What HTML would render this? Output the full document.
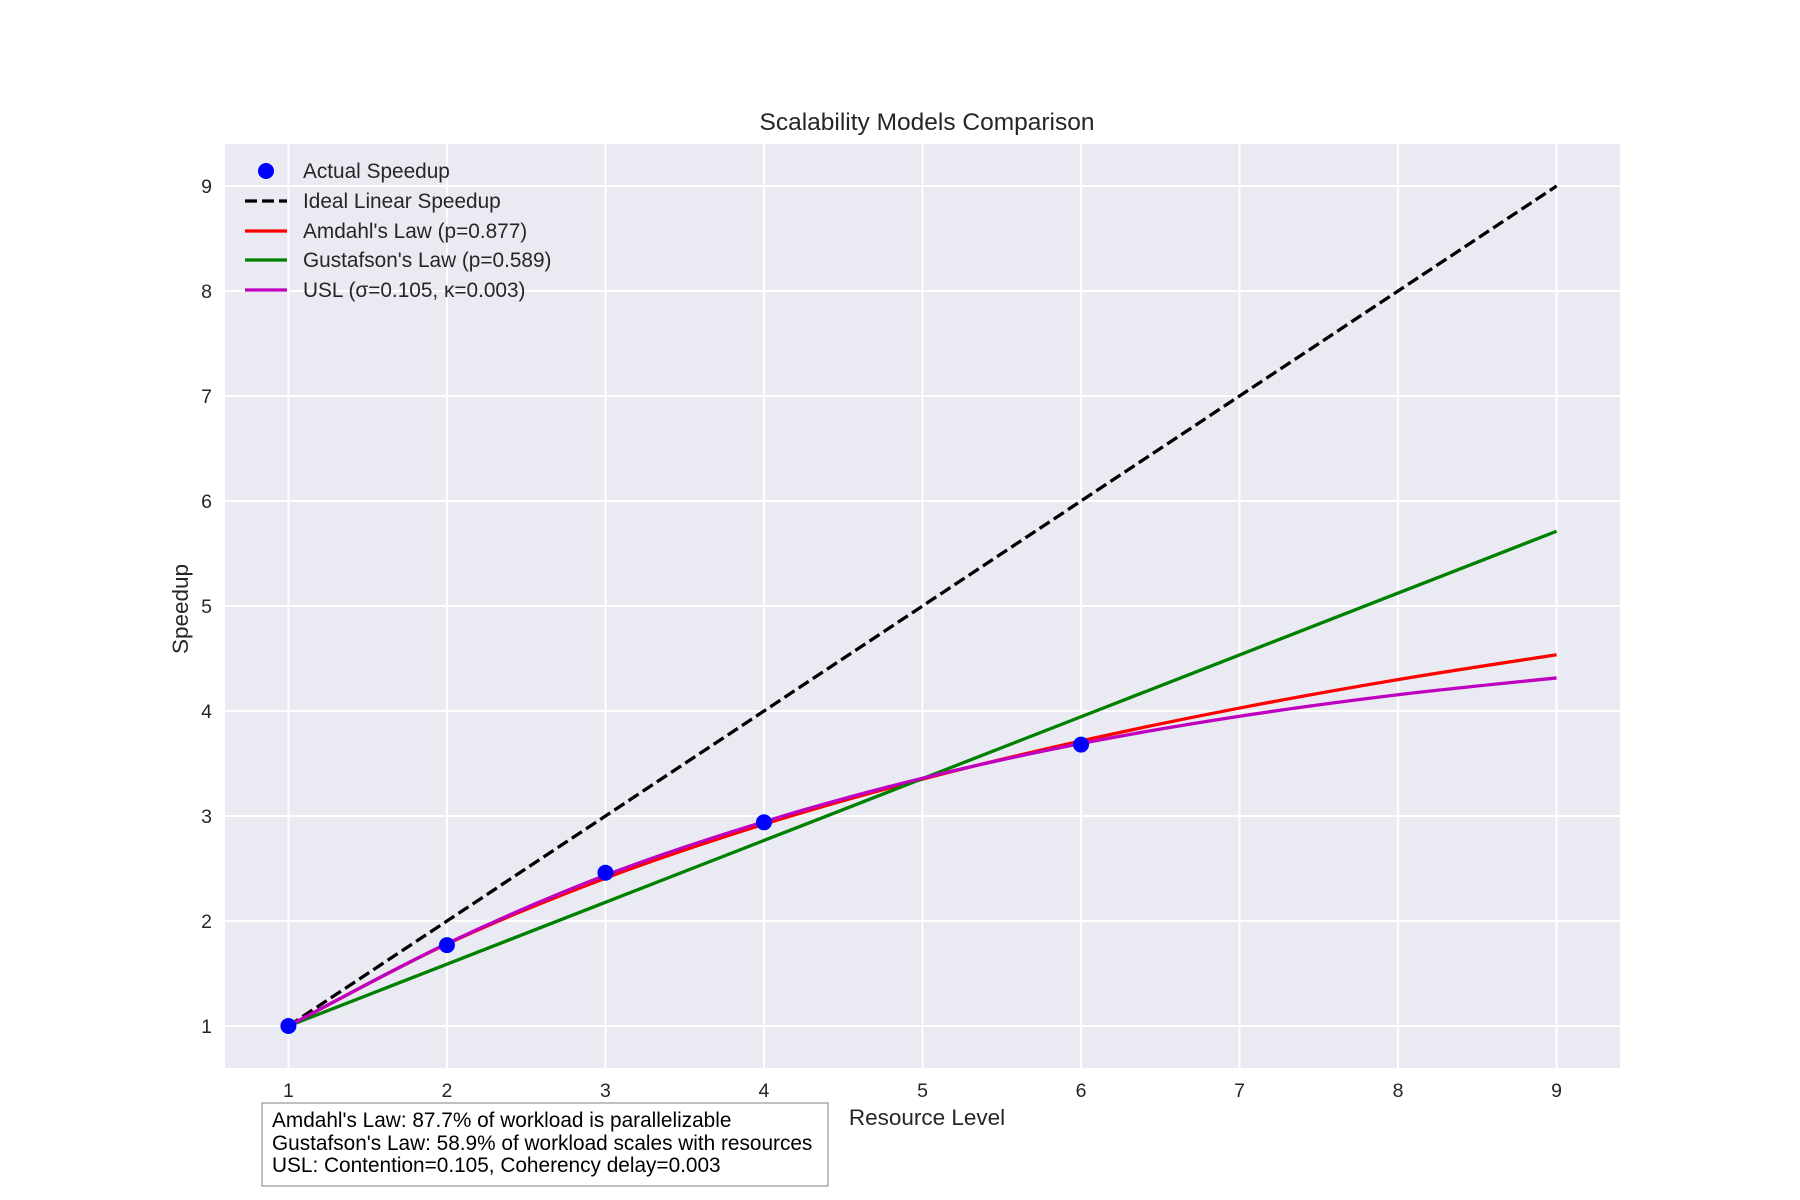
<!DOCTYPE html>
<html><head><meta charset="utf-8"><style>
html,body{margin:0;padding:0;background:#fff;}
svg{display:block;font-family:"Liberation Sans",Arial,sans-serif;}
</style></head><body>
<svg id="chart" width="1800" height="1200" viewBox="0 0 1800 1200">
<rect x="0" y="0" width="1800" height="1200" fill="#fff"/>
<rect x="225" y="144" width="1395" height="924" fill="#EAEAF2"/>
<g id="grid"></g>
<g id="series"></g>
<g id="ticks"></g>
<text x="927" y="130" font-size="24.5" fill="#262626" text-anchor="middle">Scalability Models Comparison</text>
<text x="927" y="1125" font-size="22.5" fill="#262626" text-anchor="middle">Resource Level</text>
<text x="188" y="609" font-size="22.5" fill="#262626" text-anchor="middle" transform="rotate(-90 188 609)">Speedup</text>
<g id="legend"></g>
<g>
<rect x="262" y="1109" width="566" height="83" fill="#fff" stroke="#808080" stroke-width="1" transform="translate(0,-6)"/>
<text x="272" y="1127" font-size="20.8" fill="#000">Amdahl's Law: 87.7% of workload is parallelizable</text>
<text x="272" y="1150" font-size="20.8" fill="#000">Gustafson's Law: 58.9% of workload scales with resources</text>
<text x="272" y="1172" font-size="20.8" fill="#000">USL: Contention=0.105, Coherency delay=0.003</text>
</g>
</svg>
<script>
const xTicks=[1,2,3,4,5,6,7,8,9];
const yTicks=[1,2,3,4,5,6,7,8,9];
const actualX=[1,2,3,4,6];
const actualY=[1,1.77,2.46,2.94,3.68];
const modelX=[1,2,3,4,5,6,7,8,9];
const idealY=[1,2,3,4,5,6,7,8,9];
const amdahlY=[1,1.781,2.408,2.922,3.351,3.715,4.028,4.299,4.536];
const gustafsonY=[1,1.589,2.178,2.767,3.356,3.945,4.534,5.123,5.712];
const uslY=[1,1.785,2.435,2.945,3.36,3.69,3.95,4.155,4.315];
const legendLabels=["Actual Speedup","Ideal Linear Speedup","Amdahl's Law (p=0.877)","Gustafson's Law (p=0.589)","USL (σ=0.105, κ=0.003)"];

const X0=225,X1=1620,Y0=1068,Y1=144,xmin=0.6,xmax=9.4,ymin=0.6,ymax=9.4;
const sx=v=>X0+(v-xmin)/(xmax-xmin)*(X1-X0);
const sy=v=>Y0-(v-ymin)/(ymax-ymin)*(Y0-Y1);
const NS="http://www.w3.org/2000/svg";
function mk(tag,attrs,parent){const e=document.createElementNS(NS,tag);for(const k in attrs)e.setAttribute(k,attrs[k]);parent.appendChild(e);return e;}
const grid=document.getElementById('grid'),ticks=document.getElementById('ticks'),series=document.getElementById('series'),legend=document.getElementById('legend');
xTicks.forEach(t=>{
  const l=mk('line',{x1:sx(t),x2:sx(t),y1:Y1,y2:Y0,stroke:'#fff','stroke-width':2},grid);
  
  
  const tx=mk('text',{x:sx(t),y:1097,'font-size':19.5,fill:'#262626','text-anchor':'middle'},ticks);
  tx.textContent=t;
  
  
});
yTicks.forEach(t=>{
  const l=mk('line',{x1:X0,x2:X1,y1:sy(t),y2:sy(t),stroke:'#fff','stroke-width':2},grid);
  
  
  const tx=mk('text',{x:212,y:sy(t)+7,'font-size':19.5,fill:'#262626','text-anchor':'end'},ticks);
  tx.textContent=t;
  
  
});
function smoothPath(xs,ys){
  const p=xs.map((x,i)=>[sx(x),sy(ys[i])]);
  let d='M'+p[0][0]+','+p[0][1];
  for(let i=0;i<p.length-1;i++){
    const a=p[Math.max(i-1,0)],b=p[i],c=p[i+1],e=p[Math.min(i+2,p.length-1)];
    const c1=[b[0]+(c[0]-a[0])/6,b[1]+(c[1]-a[1])/6],c2=[c[0]-(e[0]-b[0])/6,c[1]-(e[1]-b[1])/6];
    d+=' C'+c1+' '+c2+' '+c;
  }
  return d;
}
const ideal=mk('path',{d:smoothPath(modelX,idealY),fill:'none',stroke:'#000','stroke-width':3.3,'stroke-dasharray':'12,5'},series);


const am=mk('path',{d:smoothPath(modelX,amdahlY),fill:'none',stroke:'#ff0000','stroke-width':3.3},series);


const gu=mk('path',{d:smoothPath(modelX,gustafsonY),fill:'none',stroke:'#008000','stroke-width':3.3},series);


const us=mk('path',{d:smoothPath(modelX,uslY),fill:'none',stroke:'#bf00bf','stroke-width':3.3},series);


actualX.forEach((x,i)=>{
  const c=mk('circle',{cx:sx(x),cy:sy(actualY[i]),r:8,fill:'#0000ff'},series);
  
  
});
const rowY=[171,201,231,260,290];
const styles=[{m:'#0000ff'},{c:'#000',dash:'12,5'},{c:'#ff0000'},{c:'#008000'},{c:'#bf00bf'}];
legendLabels.forEach((lab,i)=>{
  const y=rowY[i],s=styles[i];
  let mark;
  if(s.m){mark=mk('circle',{cx:266,cy:y,r:8,fill:s.m},legend);}
  else{mark=mk('line',{x1:245,x2:287,y1:y,y2:y,stroke:s.c,'stroke-width':3.3,'stroke-dasharray':s.dash||'none'},legend);}
  
  
  const t=mk('text',{x:303,y:y+7,'font-size':20.8,fill:'#262626'},legend);
  t.textContent=lab;
  
  
});
</script>
</body></html>
